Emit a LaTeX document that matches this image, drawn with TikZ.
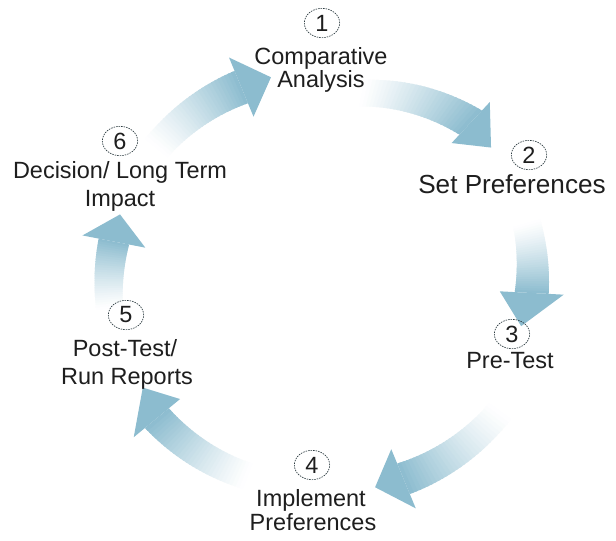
\documentclass[tikz,border=0pt]{standalone}
\usepackage{fontspec}
\setmainfont{Liberation Sans}
\usetikzlibrary{shapes.geometric}
\definecolor{arrowblue}{RGB}{140,188,207}
\definecolor{labelgray}{RGB}{30,30,30}
\definecolor{ringgray}{RGB}{45,60,65}
\newcommand\labfont{\fontsize{17.6pt}{20pt}\selectfont}
\newcommand\bigfont{\fontsize{19.6pt}{22pt}\selectfont}
\newcommand\ccx{322}
\newcommand\ccy{282}
% #1 tail angle, #2 head-base angle, #3 tip angle, #4 r tail, #5 r base, #6 r tip,
% #7 shaft width at tail, #8 shaft width at base, #9 head half width
\newcommand\cyclarrow[9]{%
  \foreach \i in {0,...,29}{%
    \pgfmathsetmacro\sA{\i/30}%
    \pgfmathsetmacro\sB{min(1,(\i+1.5)/30)}%
    \pgfmathsetmacro\tA{(#1)+((#2)-(#1))*\sA}%
    \pgfmathsetmacro\tB{(#1)+((#2)-(#1))*\sB}%
    \pgfmathsetmacro\rA{(#4)+((#5)-(#4))*\sA}%
    \pgfmathsetmacro\rB{(#4)+((#5)-(#4))*\sB}%
    \pgfmathsetmacro\wA{((#7)+((#8)-(#7))*\sA)/2}%
    \pgfmathsetmacro\wB{((#7)+((#8)-(#7))*\sB)/2}%
    \pgfmathsetmacro\pc{100*((\i+0.5)/30)^1.2}%
    \fill[arrowblue!\pc!white]
      ({\ccx+(\rA+\wA)*cos(\tA)},{\ccy-(\rA+\wA)*sin(\tA)}) --
      ({\ccx+(\rB+\wB)*cos(\tB)},{\ccy-(\rB+\wB)*sin(\tB)}) --
      ({\ccx+(\rB-\wB)*cos(\tB)},{\ccy-(\rB-\wB)*sin(\tB)}) --
      ({\ccx+(\rA-\wA)*cos(\tA)},{\ccy-(\rA-\wA)*sin(\tA)}) -- cycle;
  }%
  \fill[arrowblue]
    ({\ccx+((#5)+(#9))*cos(#2)},{\ccy-((#5)+(#9))*sin(#2)}) --
    ({\ccx+(#6)*cos(#3)},{\ccy-(#6)*sin(#3)}) --
    ({\ccx+((#5)-(#9))*cos(#2)},{\ccy-((#5)-(#9))*sin(#2)}) -- cycle;
}
\tikzset{
  stepnum/.style={ellipse, draw=ringgray, dash pattern=on 1.1pt off 0.8pt,
    line width=0.5pt, minimum width=26.5pt, minimum height=22pt,
    inner sep=0pt, font=\labfont, text=labelgray},
  steptext/.style={anchor=base, inner sep=0pt, font=\labfont, text=labelgray},
}
\begin{document}
\begin{tikzpicture}[x=0.75pt,y=-0.75pt]
\useasboundingbox (0,0) rectangle (616,540);
\fill[white] (0,0) rectangle (616,540);

% cycle arrows
\cyclarrow{187}{169}{161.5}{214}{212}{213}{27}{31}{32}
\cyclarrow{141}{112.5}{104}{213}{211}{211}{29}{35}{32}
\cyclarrow{78}{47}{38.5}{193}{218}{216}{27}{33}{28}
\cyclarrow{16}{-3}{-12.5}{213}{210}{204}{28}{34}{32}
\cyclarrow{-36}{-67.5}{-75.5}{220}{213}{212}{27}{33}{32}
\cyclarrow{249}{219.5}{210.5}{208}{214}{208}{27}{31}{30}

% step numbers
\node[stepnum] (c1) at (322,23) {1};
\node[stepnum] (c2) at (529,155) {2};
\node[stepnum] (c3) at (512,334) {3};
\node[stepnum] (c4) at (312,465) {4};
\node[stepnum] (c5) at (126,315) {5};
\node[stepnum] (c6) at (120,141) {6};

% step labels
\node[steptext] (t1a) at (321,64) {Comparative};
\node[steptext] (t1b) at (321,87) {Analysis};
\node[steptext, font=\bigfont] (t2) at (512,193) {Set Preferences};
\node[steptext] (t3) at (510,368) {Pre-Test};
\node[steptext] (t4a) at (311,506) {Implement};
\node[steptext] (t4b) at (313,530) {Preferences};
\node[steptext] (t5a) at (125,356) {Post-Test/};
\node[steptext] (t5b) at (127,384) {Run Reports};
\node[steptext] (t6a) at (120,178) {Decision/ Long Term};
\node[steptext] (t6b) at (120,206) {Impact};
\end{tikzpicture}
\end{document}
